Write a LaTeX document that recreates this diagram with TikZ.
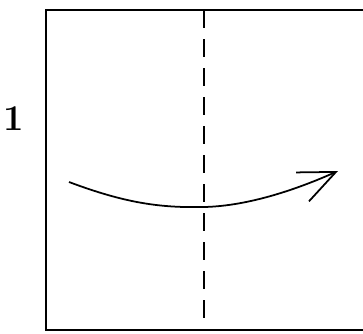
\documentclass[tikz,border=0pt]{standalone}
\usepackage{tikz}
\usetikzlibrary{arrows.meta}

\begin{document}
\begin{tikzpicture}[
        x=0.03cm, y=-0.03cm,
        sheet/.style={
            rectangle, draw, line width=1.6pt, inner sep=0pt,
            minimum width=9.84cm, minimum height=9.6cm
        },
        fold/.style={
            line width=1.2pt, dash pattern=on 0.54cm off 0.33cm
        },
        turn/.style={
            line width=1.5pt, -{Straight Barb[length=1.1cm, width=0.95cm, line width=1.5pt]}
        },
        stepnum/.style={
            font=\fontsize{31}{31}\selectfont\bfseries
        }
    ]
    \useasboundingbox (0,0) rectangle (363,333);

    % Paper square
    \node[sheet] (paper) at (210,170) {};

    % Step number
    \node[stepnum] (num) at (14,119) {1};

    % Valley fold line
    \coordinate (foldtop) at (204,10);
    \coordinate (foldbot) at (204,330);
    \draw[fold] (foldtop) -- (foldbot);

    % Folding arrow
    \coordinate (from) at (69,182);
    \coordinate (low) at (204,207);
    \coordinate (to) at (338,171);
    \draw[turn] (from) .. controls (125,203) and (160,208) .. (low)
        .. controls (250,206) and (300,188) .. (to);

\end{tikzpicture}
\end{document}
